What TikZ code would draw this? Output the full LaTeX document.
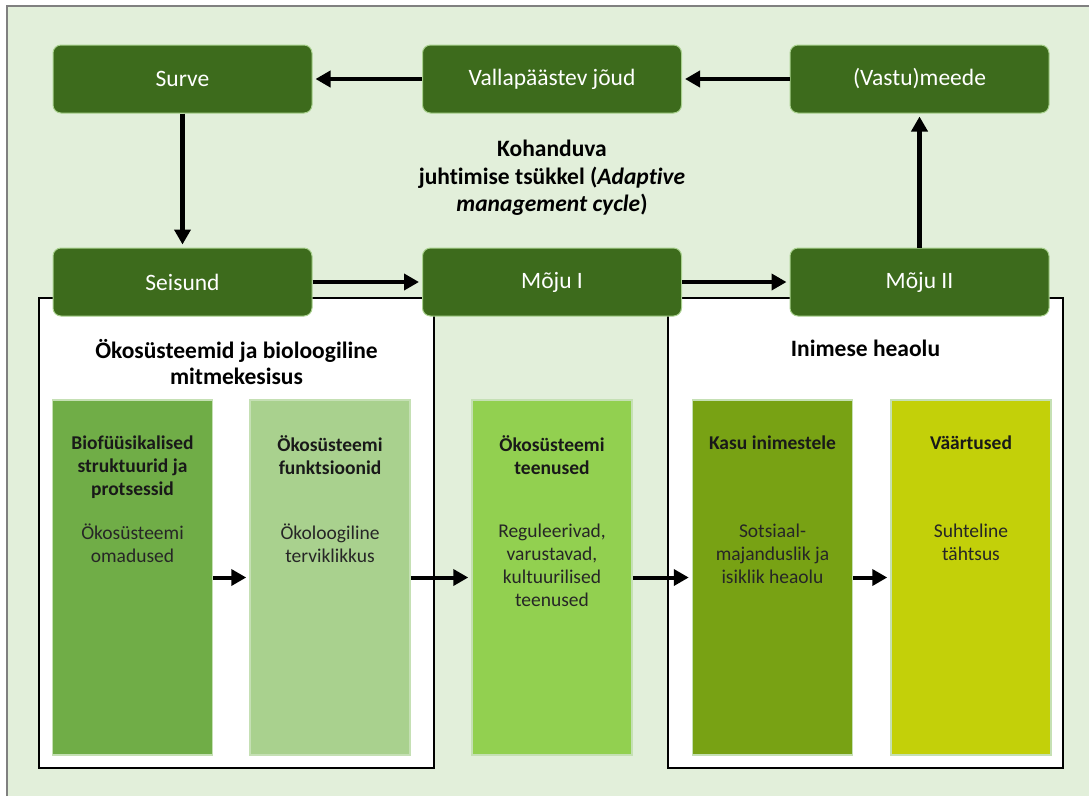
\documentclass[tikz,border=0pt]{standalone}
\usepackage{fontspec}
\setmainfont{Carlito}[Ligatures=NoCommon]
\usepackage{tikz}
\usetikzlibrary{arrows.meta,positioning}
\definecolor{bgreen}{HTML}{E2EFDA}
\definecolor{cycfill}{HTML}{3D6B1C}
\definecolor{cycedge}{HTML}{A9D18E}
\definecolor{coledge}{HTML}{C5E0B4}
\definecolor{colA}{HTML}{70AD47}
\definecolor{colB}{HTML}{A9D18E}
\definecolor{colC}{HTML}{92D050}
\definecolor{colD}{HTML}{78A214}
\definecolor{colE}{HTML}{C3D009}

\begin{document}
\begin{tikzpicture}[
      x=1pt,y=-1pt,>={Triangle[length=15pt,width=16pt]},
      cyc/.style={rectangle,rounded corners=8pt,draw=cycedge,line width=1pt,fill=cycfill,text=white,minimum width=259pt,minimum height=68pt,font=\fontsize{23.5}{28}\selectfont},
      panel/.style={rectangle,draw=black,line width=1.3pt,fill=white,inner sep=0pt},
      heading/.style={anchor=north,align=center,inner sep=0pt,font=\bfseries\fontsize{23.5}{26}\selectfont},
      col/.style={rectangle,draw=coledge,line width=1.5pt,minimum width=160pt,minimum height=355pt,inner sep=0pt},
      coltitle/.style={align=center,inner sep=0pt,text=black!90,font=\bfseries\fontsize{19.5}{23}\selectfont},
      coltext/.style={align=center,inner sep=0pt,text=black!85,font=\fontsize{19.5}{23}\selectfont},
      arr/.style={->,line width=4.5pt,shorten >=3pt}]
    \useasboundingbox (0,0) rectangle (1089,796);
    % background
    \fill[bgreen] (7,6) rectangle (1089,796);
    \draw[black!50,line width=1.5pt] (7,796) -- (7,6) -- (1089,6);
    % white panels
    \node[panel,minimum width=395pt,minimum height=470pt] (ecopanel) at (236.5,533) {};
    \node[panel,minimum width=395pt,minimum height=470pt] (humpanel) at (865.5,533) {};
    \node[heading,below=42pt of ecopanel.north] (ecohead) {Ökosüsteemid ja bioloogiline\\mitmekesisus};
    \node[heading,below=42pt of humpanel.north] (humhead) {Inimese heaolu};
    % cycle boxes
    \node[cyc] (surve) at (182.5,79) {Surve};
    \node[cyc] (valla) at (552,79) {Vallapäästev jõud};
    \node[cyc] (vastu) at (919.5,79) {(Vastu)meede};
    \node[cyc] (seisund) at (182.5,282) {Seisund};
    \node[cyc] (moju1) at (552,282) {Mõju I};
    \node[cyc] (moju2) at (919.5,282) {Mõju II};
    \node[font=\bfseries\fontsize{23.5}{27.5}\selectfont,align=center] (cycle) at (552,178)
      {Kohanduva\\juhtimise tsükkel (\textit{Adaptive}\\\textit{management cycle})};
    \draw[arr] (vastu) -- (valla);
    \draw[arr] (valla) -- (surve);
    \draw[arr] (surve) -- (seisund);
    \draw[arr] (seisund) -- (moju1);
    \draw[arr] (moju1) -- (moju2);
    \draw[arr] (moju2) -- (vastu);
    % columns
    \foreach \i/\x/\c/\t/\b in {
        1/132.5/colA/{Biofüüsikalised\\struktuurid ja\\protsessid}/{Ökosüsteemi\\omadused},
        2/330/colB/{Ökosüsteemi\\funktsioonid}/{Ökoloogiline\\terviklikkus},
        3/552/colC/{Ökosüsteemi\\teenused}/{Reguleerivad,\\varustavad,\\kultuurilised\\teenused},
        4/772.5/colD/{Kasu inimestele}/{Sotsiaal-\\majanduslik ja\\isiklik heaolu},
        5/971/colE/{Väärtused}/{Suhteline\\tähtsus}} {
      \node[col,fill=\c] (c\i) at (\x,577.5) {};
      \node[coltitle,anchor=north,below=36pt of c\i.north] (t\i) {\t};
      \node[coltext,anchor=north,below=124pt of c\i.north] (b\i) {\b};
    }
    \foreach \i/\j in {1/2,2/3,3/4,4/5} \draw[arr,line width=4pt] (c\i) -- (c\j);
  \end{tikzpicture}
\end{document}
